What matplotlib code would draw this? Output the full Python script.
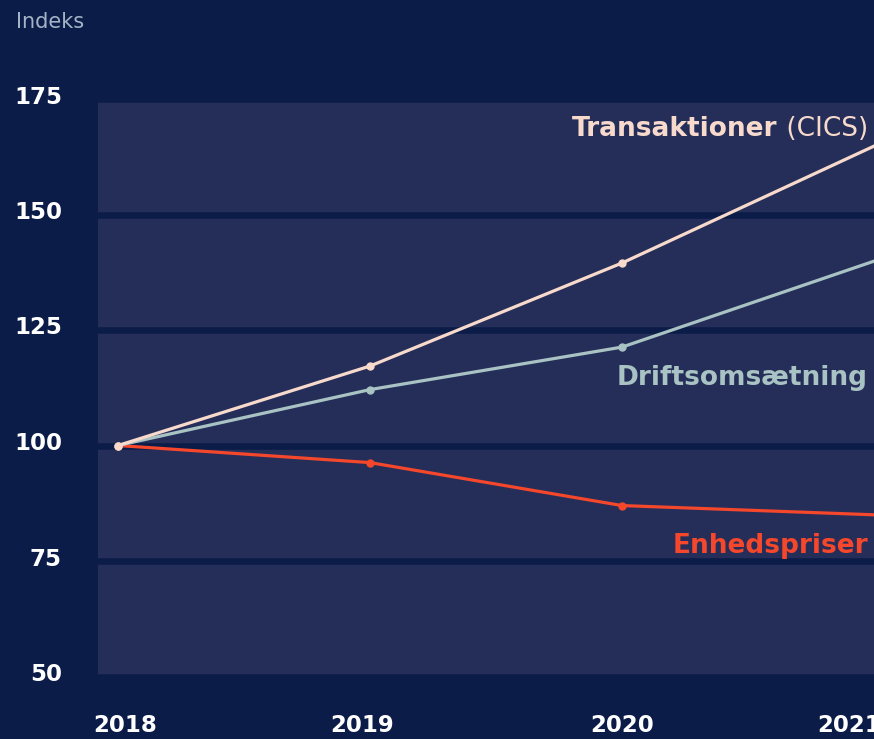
import matplotlib
matplotlib.use("Agg")
import matplotlib.pyplot as plt
import matplotlib.transforms as mtransforms

# ---- data ----
years = [2018, 2019, 2020, 2021]
transaktioner = [100, 117.2, 139.5, 164.8]
driftsomsaetning = [100, 112.1, 121.3, 139.9]
enhedspriser = [100, 96.3, 87.0, 85.0]
y_ticks = [50, 75, 100, 125, 150, 175]
x_labels = ["2018", "2019", "2020", "2021"]

# ---- style ----
BG = "#0b1c48"
BAND = "#242e59"
C_TRANS = "#f8dacd"
C_DRIFT = "#a9c2c3"
C_ENH = "#f4472b"

W, H, DPI = 874, 739, 100
fig = plt.figure(figsize=(W / DPI, H / DPI), dpi=DPI, facecolor=BG)
left = 98 / W
bottom = (H - 676.5) / H
top = (H - 99) / H
ax = fig.add_axes([left, bottom, 1.0 - left, top - bottom])
ax.set_facecolor(BAND)
for s in ax.spines.values():
    s.set_visible(False)

ax.set_ylim(50, 175)
ax.set_xlim(2018 - 20 / 252, 2021)

# gridlines in background color
ax.set_yticks(y_ticks)
ax.yaxis.grid(True, color=BG, linewidth=4.7)
ax.set_axisbelow(True)
ax.tick_params(axis="y", length=0, pad=26, labelsize=16.5, labelcolor="white")
for lab in ax.get_yticklabels():
    lab.set_fontweight("bold")
    lab.set_verticalalignment("center")
    lab.set_transform(lab.get_transform() + mtransforms.ScaledTranslation(0, 2 / DPI, fig.dpi_scale_trans))

ax.set_xticks(years)
ax.set_xticklabels(x_labels)
ax.tick_params(axis="x", length=0, pad=27, labelsize=16.5, labelcolor="white")
xl = ax.get_xticklabels()
offs = [7, -8, 0, -25]
for lab, o in zip(xl, offs):
    lab.set_fontweight("bold")
    lab.set_transform(lab.get_transform() + mtransforms.ScaledTranslation(o / DPI, 0, fig.dpi_scale_trans))

lw = 2.3
ax.plot(years, enhedspriser, color=C_ENH, lw=lw, marker="o", ms=5, markevery=[0, 1, 2], zorder=3)
ax.plot(years, driftsomsaetning, color=C_DRIFT, lw=lw, marker="o", ms=5, markevery=[0, 1, 2], zorder=4)
ax.plot(years, transaktioner, color=C_TRANS, lw=lw, marker="o", ms=5, markevery=[0, 1, 2], zorder=5)

# series labels
xr = (868 - 98) / (W - 98)


def ypos(py):
    return 100 + (445.5 - py) / 4.62


tr = ax.get_yaxis_transform()
t = ax.text(xr, ypos(136), " (CICS)", color=C_TRANS, fontsize=19, ha="right", va="baseline",
            transform=tr, zorder=6)
ax.annotate("Transaktioner", xy=(0, 0), xycoords=t, color=C_TRANS, fontsize=19,
            fontweight="bold", ha="right", va="bottom", zorder=6)
ax.text(xr, ypos(385), "Driftsomsætning", color=C_DRIFT, fontsize=19, fontweight="bold",
        ha="right", va="baseline", transform=tr, zorder=6)
ax.text(xr, ypos(552.7), "Enhedspriser", color=C_ENH, fontsize=19, fontweight="bold",
        ha="right", va="baseline", transform=tr, zorder=6)

fig.text(16 / W, (H - 28) / H, "Indeks", color="#a3b4c6", fontsize=15, ha="left", va="baseline")

fig.savefig("out.png", dpi=DPI, facecolor=BG)
